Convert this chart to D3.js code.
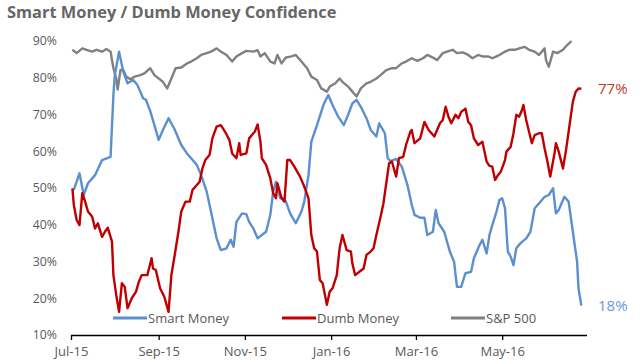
<!DOCTYPE html>
<html><head><meta charset="utf-8">
<script src="https://cdn.jsdelivr.net/npm/d3@7"></script>
<style>body{margin:0;background:#fff}svg{display:block}</style>
</head><body><svg id="c" width="640" height="360"></svg>
<script>
const chartTitle = "Smart Money / Dumb Money Confidence";
const seriesNames = ["Smart Money", "Dumb Money", "S&P 500"];
const yTicks = [10, 20, 30, 40, 50, 60, 70, 80, 90];
const xTickDates = ["2015-07-01", "2015-09-01", "2015-11-01", "2016-01-01", "2016-03-01", "2016-05-01"];
const xTickLabels = ["Jul-15", "Sep-15", "Nov-15", "Jan-16", "Mar-16", "May-16"];

const smartDates = ["2015-07-03","2015-07-07","2015-07-10","2015-07-13","2015-07-18","2015-07-23","2015-07-29","2015-07-31","2015-08-01","2015-08-04","2015-08-07","2015-08-10","2015-08-14","2015-08-17","2015-08-21","2015-08-23","2015-08-26","2015-08-29","2015-09-01","2015-09-04","2015-09-08","2015-09-12","2015-09-17","2015-09-21","2015-09-24","2015-09-28","2015-10-01","2015-10-05","2015-10-08","2015-10-12","2015-10-15","2015-10-19","2015-10-22","2015-10-24","2015-10-26","2015-10-30","2015-11-02","2015-11-04","2015-11-07","2015-11-10","2015-11-13","2015-11-16","2015-11-19","2015-11-21","2015-11-23","2015-11-26","2015-11-28","2015-11-30","2015-12-03","2015-12-07","2015-12-11","2015-12-13","2015-12-16","2015-12-18","2015-12-22","2015-12-25","2015-12-27","2015-12-30","2016-01-02","2016-01-06","2016-01-10","2016-01-13","2016-01-16","2016-01-19","2016-01-22","2016-01-26","2016-01-29","2016-02-02","2016-02-04","2016-02-08","2016-02-10","2016-02-12","2016-02-16","2016-02-20","2016-02-24","2016-02-27","2016-02-29","2016-03-04","2016-03-07","2016-03-09","2016-03-13","2016-03-15","2016-03-17","2016-03-21","2016-03-25","2016-03-28","2016-03-30","2016-04-02","2016-04-05","2016-04-09","2016-04-11","2016-04-15","2016-04-17","2016-04-20","2016-04-22","2016-04-24","2016-04-27","2016-04-29","2016-05-01","2016-05-03","2016-05-05","2016-05-07","2016-05-09","2016-05-11","2016-05-14","2016-05-18","2016-05-21","2016-05-24","2016-05-27","2016-05-31","2016-06-03","2016-06-06","2016-06-08","2016-06-10","2016-06-14","2016-06-17","2016-06-20","2016-06-23","2016-06-24","2016-06-26"];
const smartValues = [49.5,54,48.1,51.3,53.5,57.6,58.5,75.3,80.7,87.1,81.6,78.5,79.4,78,74.4,74,71,67.1,63.1,65.8,69,66.2,61.7,59.4,58.1,56.3,53.5,49,43.6,36.3,33.1,33.6,35.9,34,40.8,43.1,42.9,40.8,39,36.3,37.2,38.1,42.7,49,51.7,47.2,47.3,46.3,43.1,40.4,43.6,46.3,53.5,62.6,67.1,70.7,73,75.3,72.6,69.4,67.1,69.9,73,74,72.1,69,65.8,64,67.6,64.9,58.1,57.3,57.9,55.8,50.8,45.5,42.7,41.9,41.9,37.2,38.1,44,40.4,38.1,32.7,29.9,23.1,23.1,26.8,27.2,30.9,34.5,35.9,32.2,37.2,39.9,43.6,46.7,47.2,44.5,32.7,31.3,29,33.6,35,36.3,38.1,44.5,45.8,47.6,48.1,49.9,43.1,44,47.6,46.3,38.1,29.9,22.7,18];

const dumbDates = ["2015-07-02","2015-07-03","2015-07-05","2015-07-07","2015-07-09","2015-07-11","2015-07-13","2015-07-16","2015-07-18","2015-07-20","2015-07-23","2015-07-25","2015-07-27","2015-07-30","2015-07-31","2015-08-02","2015-08-04","2015-08-06","2015-08-08","2015-08-10","2015-08-13","2015-08-16","2015-08-18","2015-08-20","2015-08-24","2015-08-27","2015-08-28","2015-08-30","2015-09-02","2015-09-05","2015-09-08","2015-09-10","2015-09-12","2015-09-15","2015-09-17","2015-09-20","2015-09-23","2015-09-25","2015-09-28","2015-09-30","2015-10-02","2015-10-04","2015-10-07","2015-10-09","2015-10-12","2015-10-15","2015-10-18","2015-10-21","2015-10-23","2015-10-26","2015-10-28","2015-10-29","2015-11-02","2015-11-04","2015-11-07","2015-11-08","2015-11-10","2015-11-12","2015-11-13","2015-11-16","2015-11-19","2015-11-21","2015-11-23","2015-11-24","2015-11-27","2015-11-29","2015-12-01","2015-12-03","2015-12-06","2015-12-10","2015-12-13","2015-12-16","2015-12-18","2015-12-20","2015-12-22","2015-12-24","2015-12-26","2015-12-29","2015-12-31","2016-01-02","2016-01-05","2016-01-07","2016-01-09","2016-01-12","2016-01-15","2016-01-16","2016-01-18","2016-01-21","2016-01-24","2016-01-26","2016-01-29","2016-01-31","2016-02-02","2016-02-05","2016-02-07","2016-02-09","2016-02-11","2016-02-13","2016-02-16","2016-02-18","2016-02-21","2016-02-23","2016-02-26","2016-02-27","2016-02-29","2016-03-04","2016-03-07","2016-03-10","2016-03-14","2016-03-18","2016-03-20","2016-03-22","2016-03-24","2016-03-26","2016-03-29","2016-03-31","2016-04-02","2016-04-05","2016-04-07","2016-04-09","2016-04-11","2016-04-14","2016-04-17","2016-04-20","2016-04-22","2016-04-24","2016-04-26","2016-04-28","2016-04-30","2016-05-03","2016-05-04","2016-05-07","2016-05-09","2016-05-11","2016-05-13","2016-05-15","2016-05-16","2016-05-18","2016-05-20","2016-05-22","2016-05-24","2016-05-27","2016-05-29","2016-05-31","2016-06-02","2016-06-04","2016-06-07","2016-06-08","2016-06-10","2016-06-13","2016-06-15","2016-06-17","2016-06-20","2016-06-22","2016-06-24","2016-06-26"];
const dumbValues = [49.9,45.4,41.3,39.9,48.6,46.3,43.6,42.2,39,40.4,36.7,38.1,39.2,35.4,26.3,20.9,16.3,24.1,23.1,17.3,20,21.8,24.5,26.3,26.3,30.9,28.1,27.7,22.7,20.4,16.3,26.3,30.9,38.1,43.6,46.3,46.3,49.5,50.8,51.7,55.4,57.6,59,63.5,66.7,67.1,65.3,63.1,59.4,58.1,62.2,59,59.4,63.5,64.9,65.3,67.3,62.6,58.1,56.3,52.6,48.6,47.2,51.3,47.2,46.3,57.6,57.6,55.8,53.1,50.4,47.2,37.2,33.6,32.7,25,24.1,18.2,21.8,22.7,26.3,33.6,37.2,33.1,32.7,29.5,26.3,27.2,28.1,31.8,32.7,33.6,37.2,42.2,45.8,51.3,56.7,57.2,53.1,58.1,58.5,61.7,65.3,65.8,62.2,63.5,68,65.8,64,67.6,68.5,72.1,69.4,67.6,69.9,69,70.7,71.6,68,67.1,63.5,61.7,62.6,57.2,56,55.8,52.2,53.5,54.4,57.6,59.9,61.2,64.9,69.9,69.4,71.2,72.6,68.5,65.3,62.2,64.4,64.9,64.9,60.8,57.2,53.1,59.4,62.2,59.9,55.3,59.9,65.3,73.5,76.2,77.1,77];

const spxDates = ["2015-07-02","2015-07-05","2015-07-09","2015-07-12","2015-07-16","2015-07-19","2015-07-23","2015-07-26","2015-07-29","2015-07-31","2015-08-02","2015-08-03","2015-08-05","2015-08-07","2015-08-09","2015-08-12","2015-08-15","2015-08-19","2015-08-22","2015-08-26","2015-08-29","2015-09-04","2015-09-07","2015-09-10","2015-09-13","2015-09-17","2015-09-21","2015-09-24","2015-09-28","2015-10-01","2015-10-05","2015-10-08","2015-10-12","2015-10-15","2015-10-19","2015-10-23","2015-10-26","2015-10-30","2015-11-02","2015-11-07","2015-11-10","2015-11-12","2015-11-15","2015-11-19","2015-11-22","2015-11-24","2015-11-27","2015-11-30","2015-12-04","2015-12-07","2015-12-11","2015-12-15","2015-12-18","2015-12-22","2015-12-25","2015-12-29","2015-12-31","2016-01-04","2016-01-07","2016-01-09","2016-01-13","2016-01-15","2016-01-19","2016-01-22","2016-01-26","2016-01-29","2016-02-02","2016-02-05","2016-02-09","2016-02-13","2016-02-16","2016-02-20","2016-02-23","2016-02-27","2016-03-02","2016-03-06","2016-03-09","2016-03-13","2016-03-16","2016-03-20","2016-03-23","2016-03-27","2016-03-30","2016-04-03","2016-04-07","2016-04-10","2016-04-14","2016-04-17","2016-04-21","2016-04-24","2016-04-27","2016-04-29","2016-05-03","2016-05-06","2016-05-10","2016-05-13","2016-05-17","2016-05-20","2016-05-24","2016-05-27","2016-05-31","2016-06-01","2016-06-03","2016-06-06","2016-06-09","2016-06-13","2016-06-16","2016-06-19"];
const spxValues = [87.6,86.7,88,87.6,87.1,87.6,87.1,87.8,87.1,82.6,79.8,76.8,82.1,82.1,80.3,79.6,80.3,80.7,81.2,82.6,80.7,78.9,77.1,79.8,82.6,82.8,83.9,84.4,85.3,86.2,86.7,87.1,88,87.1,86.2,84.4,85.8,86.7,87.3,87.1,87.5,85.8,86.7,84.4,83.9,86.2,83.9,85.5,85.8,86.2,84.4,82.6,80.3,79.4,77.1,76.2,77.6,78.5,79.8,78.9,77.6,76.7,74.9,77.1,78.5,78.9,79.8,80.7,82.1,82.6,82.6,83.9,84.4,85.3,84.6,85.3,86.2,85.5,84.8,86.7,87.1,87.6,86.7,86.9,86.2,85.3,86.2,85.8,85.8,85.3,85.8,86.2,87.1,87.6,87.6,88,88.4,87.6,87.1,86.2,88,84.8,83,87.1,86.7,87.6,88.9,90];

const colors = ["#5b8fd0", "#c00000", "#808080"];
const labelColors = ["#6a9bd6", "#c0392b"];

const parse = d3.timeParse("%Y-%m-%d");
const svg = d3.select("#c");
const x = d3.scaleTime().domain([parse("2015-07-01"), parse("2016-06-30")]).range([71, 587]);
const y = d3.scaleLinear().domain([10, 90]).range([335, 41]);
const font = "'Open Sans', sans-serif";
const textGray = "#595959";

svg.append("text").attr("x", 7).attr("y", 18).attr("font-family", font)
  .attr("font-weight", 700).attr("font-size", 16.4).attr("fill", "#666").text(chartTitle);

// y labels
svg.append("g").selectAll("text").data(yTicks).join("text")
  .attr("x", 57).attr("y", d => y(d)).attr("dy", "0.35em").attr("text-anchor", "end")
  .attr("font-family", font).attr("font-size", 12.3).attr("fill", textGray).text(d => d + "%");

// x axis
const xAxis = d3.axisBottom(x).tickValues(xTickDates.map(parse)).tickSize(5)
  .tickFormat((d, i) => xTickLabels[i]);
const gx = svg.append("g").attr("transform", "translate(0,335)").call(xAxis);
gx.select(".domain").attr("d", "M71,0.5H587").attr("stroke", "#000").attr("stroke-width", 1.3);
gx.selectAll(".tick line").attr("stroke", "#000").attr("stroke-width", 1.3);
gx.selectAll(".tick text").attr("font-family", font).attr("font-size", 13).attr("fill", textGray).attr("dy", "1.0em");

const series = [
  {dates: smartDates, values: smartValues},
  {dates: dumbDates, values: dumbValues},
  {dates: spxDates, values: spxValues}
];
const line = d3.line().x(d => x(d[0])).y(d => y(d[1])).curve(d3.curveLinear);
[2, 0, 1].forEach(i => {
  const s = series[i];
  const pts = s.dates.map((d, j) => [parse(d), s.values[j]]);
  svg.append("path").datum(pts).attr("d", line).attr("fill", "none")
    .attr("stroke", colors[i]).attr("stroke-width", 2.4).attr("stroke-linejoin", "round");
});

// legend
const legX = [113, 282, 451];
seriesNames.forEach((n, i) => {
  svg.append("line").attr("x1", legX[i]).attr("x2", legX[i] + 34).attr("y1", 318).attr("y2", 318)
    .attr("stroke", colors[i]).attr("stroke-width", 3);
  svg.append("text").attr("x", legX[i] + 35).attr("y", 318).attr("dy", "0.35em")
    .attr("font-family", font).attr("font-size", 13).attr("fill", textGray).text(n);
});

// end labels
[[0, smartValues], [1, dumbValues]].forEach(([i, vals]) => {
  const v = vals[vals.length - 1];
  svg.append("text").attr("x", 598).attr("y", y(v)).attr("dy", "0.35em")
    .attr("font-family", font).attr("font-size", 15).attr("fill", labelColors[i]).text(Math.round(v) + "%");
});
</script></body></html>
